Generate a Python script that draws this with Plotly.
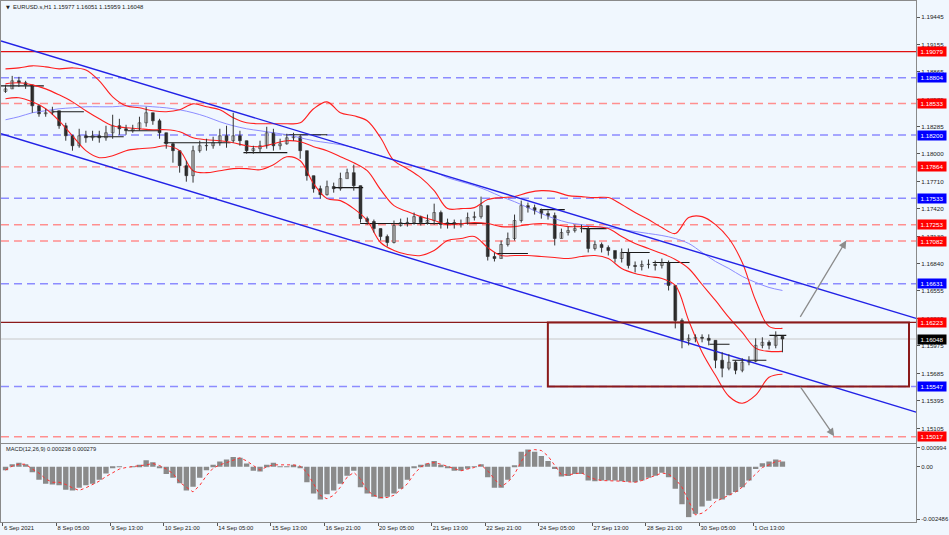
import plotly.graph_objects as go

# ---------------- data (4-hour aggregation of the H1 chart) ----------------
first_open = 1.18660
closes = [1.18687,1.18772,1.18751,1.18729,1.18508,1.18424,1.18435,1.18456,1.18298,1.18192,
          1.18087,1.18192,1.18171,1.18192,1.18171,1.18224,1.18298,1.18266,1.18245,1.18266,
          1.18329,1.18435,1.18350,1.18224,1.18108,1.18035,1.17877,1.17771,1.18035,1.18087,
          1.18087,1.18119,1.18192,1.18140,1.18192,1.18140,1.18035,1.18056,1.18087,1.18224,
          1.18087,1.18108,1.18171,1.18182,1.18035,1.17771,1.17634,1.17571,1.17656,1.17634,
          1.17740,1.17803,1.17666,1.17318,1.17287,1.17213,1.17129,1.17066,1.17245,1.17276,
          1.17276,1.17339,1.17276,1.17298,1.17382,1.17255,1.17276,1.17255,1.17266,1.17329,
          1.17339,1.17455,1.16918,1.16897,1.17045,1.17108,1.17298,1.17455,1.17434,1.17403,
          1.17371,1.17350,1.17108,1.17171,1.17192,1.17213,1.17213,1.17003,1.17045,1.17013,
          1.16982,1.16897,1.16961,1.16824,1.16813,1.16834,1.16834,1.16824,1.16855,1.16613,
          1.16244,1.16034,1.16055,1.16066,1.16055,1.16034,1.15824,1.15740,1.15803,1.15718,
          1.15803,1.15813,1.15981,1.16013,1.15981,1.16076,1.16048]
highs = [1.18729,1.18824,1.18814,1.18772,1.18729,1.18519,1.18477,1.18498,1.18456,1.18329,
         1.18203,1.18266,1.18245,1.18245,1.18245,1.18298,1.18414,1.18371,1.18308,1.18308,
         1.18393,1.18498,1.18435,1.18371,1.18224,1.18119,1.18035,1.17929,1.18087,1.18140,
         1.18161,1.18182,1.18266,1.18298,1.18435,1.18245,1.18140,1.18087,1.18140,1.18287,
         1.18266,1.18161,1.18213,1.18224,1.18203,1.18035,1.17771,1.17666,1.17719,1.17698,
         1.17803,1.17845,1.17887,1.17666,1.17339,1.17308,1.17213,1.17150,1.17298,1.17318,
         1.17329,1.17382,1.17350,1.17361,1.17476,1.17403,1.17318,1.17308,1.17308,1.17382,
         1.17392,1.17550,1.17455,1.16961,1.17087,1.17171,1.17361,1.17508,1.17487,1.17466,
         1.17424,1.17403,1.17382,1.17213,1.17234,1.17255,1.17255,1.17234,1.17087,1.17066,
         1.17035,1.16961,1.17003,1.17003,1.16866,1.16876,1.16887,1.16876,1.16897,1.16876,
         1.16613,1.16265,1.16097,1.16097,1.16097,1.16097,1.16034,1.15908,1.15887,1.15824,
         1.15845,1.15866,1.16055,1.16066,1.16034,1.16129,1.16076]
lows = [1.18645,1.18687,1.18708,1.18687,1.18435,1.18393,1.18393,1.18414,1.18266,1.18140,
        1.18035,1.18066,1.18119,1.18140,1.18119,1.18140,1.18161,1.18203,1.18203,1.18224,
        1.18245,1.18287,1.18308,1.18161,1.18056,1.17908,1.17803,1.17708,1.17698,1.18014,
        1.18035,1.18056,1.18087,1.18066,1.18119,1.18087,1.18003,1.18003,1.18014,1.18056,
        1.18035,1.18045,1.18098,1.18140,1.17950,1.17719,1.17592,1.17529,1.17561,1.17592,
        1.17613,1.17740,1.17613,1.17276,1.17255,1.17171,1.17087,1.17024,1.17056,1.17234,
        1.17234,1.17255,1.17245,1.17255,1.17255,1.17213,1.17213,1.17213,1.17224,1.17255,
        1.17298,1.17318,1.16876,1.16866,1.16897,1.17024,1.17087,1.17276,1.17382,1.17361,
        1.17318,1.17308,1.17035,1.17108,1.17140,1.17171,1.17171,1.16961,1.16982,1.16961,
        1.16929,1.16855,1.16855,1.16792,1.16750,1.16771,1.16792,1.16771,1.16792,1.16560,
        1.16160,1.15950,1.15981,1.16013,1.16013,1.15981,1.15740,1.15644,1.15718,1.15676,
        1.15697,1.15771,1.15803,1.15950,1.15939,1.15950,1.15908]

# Bollinger bands and moving average (every 8 hours)
bb_up = [1.18898,1.18908,1.18930,1.18919,1.18898,1.18908,1.18887,1.18772,1.18603,1.18508,
         1.18487,1.18456,1.18445,1.18466,1.18529,1.18498,1.18466,1.18382,1.18329,1.18319,
         1.18319,1.18319,1.18329,1.18477,1.18550,1.18435,1.18403,1.18350,1.18171,1.17929,
         1.17845,1.17750,1.17613,1.17424,1.17424,1.17434,1.17519,1.17540,1.17550,1.17592,
         1.17613,1.17603,1.17561,1.17550,1.17540,1.17540,1.17466,1.17382,1.17308,1.17224,
         1.17161,1.17329,1.17339,1.17255,1.17108,1.16855,1.16455,1.16181,1.16160]
bb_mid = [1.18740,1.18751,1.18729,1.18687,1.18624,1.18550,1.18456,1.18371,1.18298,1.18277,
          1.18266,1.18256,1.18256,1.18235,1.18171,1.18150,1.18140,1.18119,1.18087,1.18077,
          1.18108,1.18140,1.18129,1.18077,1.18035,1.17971,1.17908,1.17824,1.17624,1.17455,
          1.17392,1.17339,1.17298,1.17255,1.17266,1.17276,1.17266,1.17234,1.17234,1.17255,
          1.17266,1.17255,1.17234,1.17234,1.17234,1.17213,1.17129,1.17056,1.17003,1.16950,
          1.16887,1.16792,1.16623,1.16455,1.16276,1.16118,1.15950,1.15918,1.15918]
bb_low = [1.18582,1.18593,1.18550,1.18477,1.18350,1.18192,1.18035,1.17961,1.17982,1.18035,
          1.18056,1.18066,1.18087,1.18035,1.17824,1.17803,1.17824,1.17845,1.17845,1.17834,
          1.17887,1.17971,1.17929,1.17687,1.17529,1.17508,1.17424,1.17298,1.17066,1.16982,
          1.16939,1.16929,1.16982,1.17087,1.17108,1.17129,1.17013,1.16929,1.16929,1.16929,
          1.16918,1.16908,1.16897,1.16918,1.16929,1.16897,1.16792,1.16739,1.16708,1.16687,
          1.16613,1.16244,1.15908,1.15665,1.15444,1.15370,1.15455,1.15644,1.15676]
ma_line = [1.18361,1.18393,1.18435,1.18456,1.18477,1.18487,1.18498,1.18498,1.18498,1.18508,
           1.18508,1.18498,1.18487,1.18466,1.18435,1.18393,1.18340,1.18298,1.18266,1.18245,
           1.18224,1.18203,1.18171,1.18140,1.18119,1.18098,1.18066,1.18024,1.17982,1.17940,
           1.17898,1.17855,1.17813,1.17750,1.17708,1.17666,1.17613,1.17550,1.17497,1.17434,
           1.17371,1.17318,1.17276,1.17255,1.17234,1.17224,1.17203,1.17182,1.17161,1.17140,
           1.17108,1.17056,1.16961,1.16866,1.16792,1.16708,1.16645,1.16592,1.16560]

# MACD(12,26,9)
macd_hist = [-0.00015,0.00012,0.00018,0.00012,-0.00025,-0.00059,-0.00077,-0.0008,-0.00084,-0.00104,
             -0.00107,-0.00095,-0.00084,-0.00077,-0.00059,-0.0003,-0.00003,0.00003,0.0,0.00003,
             0.00009,0.0003,0.00021,-0.00003,-0.00033,-0.0005,-0.00074,-0.00107,-0.0009,-0.0005,
             -0.00015,0.00009,0.00024,0.00033,0.00044,0.00041,0.00015,-0.00018,-0.00021,0.00009,
             0.00018,0.00003,0.00003,0.00009,-0.00006,-0.0007,-0.00121,-0.00148,-0.00124,-0.00107,
             -0.00077,-0.0004,-0.00018,-0.00092,-0.00121,-0.00136,-0.00144,-0.00136,-0.00121,-0.00099,
             -0.00059,-0.00006,0.00009,0.00015,0.00027,0.00009,-0.00006,-0.00018,-0.00018,-0.00009,
             0.00003,0.00012,-0.00047,-0.00095,-0.00095,-0.00059,0.00004,0.00068,0.00078,0.00068,
             0.00049,0.00027,-0.0001,-0.00044,-0.00041,-0.00033,-0.00033,-0.00062,-0.00065,-0.00062,
             -0.00062,-0.00062,-0.00065,-0.00068,-0.0007,-0.00062,-0.0005,-0.0004,-0.00027,-0.00047,
             -0.00099,-0.00169,-0.00228,-0.00213,-0.0018,-0.00154,-0.00145,-0.00148,-0.00129,-0.00114,
             -0.00092,-0.00062,-0.0001,0.00016,0.00024,0.00033,0.000238]
macd_signal = [-0.00015,0.00003,0.00012,0.00012,-0.0001,-0.00028,-0.00055,-0.0007,-0.0007,-0.0008,
               -0.00095,-0.00107,-0.00095,-0.0008,-0.00065,-0.00044,-0.00025,-0.0001,-0.00003,0.0,
               0.00003,0.00009,0.00015,0.00006,-0.0001,-0.0003,-0.0007,-0.00092,-0.00114,-0.00084,
               -0.0004,-0.00006,0.00009,0.00019,0.0003,0.00041,0.00027,0.00004,-0.00015,0.0,
               0.00009,0.00009,0.00009,0.00009,0.00003,-0.00025,-0.00077,-0.00129,-0.00145,-0.00129,
               -0.00092,-0.00047,-0.00025,-0.00055,-0.00107,-0.00129,-0.00139,-0.00139,-0.00129,-0.00104,
               -0.00077,-0.00033,0.0,0.00015,0.00019,0.00012,0.00003,-0.00009,-0.00018,-0.0001,
               -0.00003,0.00009,-0.00018,-0.00055,-0.00089,-0.0007,-0.00033,0.00024,0.00071,0.00078,
               0.00074,0.00049,0.00009,-0.00036,-0.00036,-0.0003,-0.00027,-0.00044,-0.00056,-0.00062,
               -0.00062,-0.00065,-0.00065,-0.00068,-0.0007,-0.00062,-0.0005,-0.00038,-0.00028,-0.00033,
               -0.00055,-0.00092,-0.00158,-0.00218,-0.0021,-0.00188,-0.00158,-0.00144,-0.00129,-0.00114,
               -0.00092,-0.00062,-0.00033,-0.00003,0.00009,0.00024,0.000279]

# Horizontal levels
level_prices = [1.19079, 1.18804, 1.18533, 1.18200, 1.17864, 1.17533, 1.17253, 1.17082,
                1.16631, 1.16223, 1.15547, 1.15017]
level_kinds = ["red_solid", "blue_dash", "red_dash", "blue_dash", "red_dash", "blue_dash",
               "red_dash", "red_dash", "blue_dash", "dark_solid", "blue_dash", "red_dash"]
current_price = 1.16048

# Channel trendlines (bar index, price)
channel_x = [-1.2, 545.3]
channel_upper = [1.19193, 1.16265]
channel_lower = [1.18214, 1.15276]

# Rectangle zone
zone_x = [325.4, 541.1]
zone_price = [1.15547, 1.16223]

# Arrows (tail -> head)
arrow_tail_x = [475.6, 475.6]
arrow_tail_p = [1.16265, 1.15560]
arrow_head_x = [503.6, 496.4]
arrow_head_p = [1.17087, 1.15023]

# Short black horizontal segments
seg_x0 = [-1.2, 29.8, 49.5, 74.5, 96, 143.6, 167.5, 197.3, 213.3, 295, 320.6, 346.2, 369.5, 388, 421.9, 435.6, 457.7]
seg_x1 = [24.4, 48.3, 72.1, 94.2, 135.9, 169.8, 193.7, 215.1, 289.6, 313.5, 335.5, 360.5, 386.2, 410, 433.9, 455.9, 467.8]
seg_price = [1.18719, 1.18445, 1.18182, 1.18245, 1.18119, 1.18014, 1.18203, 1.17645, 1.17266,
             1.16950, 1.17413, 1.17213, 1.16961, 1.16855, 1.15992, 1.15824, 1.16086]

# Axis labels
price_ticks = [1.19445, 1.19155, 1.18865, 1.18575, 1.18285, 1.18000, 1.17710, 1.17420,
               1.17130, 1.16840, 1.16555, 1.16265, 1.15975, 1.15685, 1.15395, 1.15105]
time_labels = ["6 Sep 2021", "8 Sep 05:00", "9 Sep 13:00", "10 Sep 21:00", "14 Sep 05:00",
               "15 Sep 13:00", "16 Sep 21:00", "20 Sep 05:00", "21 Sep 13:00", "22 Sep 21:00",
               "24 Sep 05:00", "27 Sep 13:00", "28 Sep 21:00", "30 Sep 05:00", "1 Oct 13:00"]
macd_labels = ["0.000994", "0.00", "-0.002486"]
macd_label_pos = [0.00086, 0.0, -0.002365]

# ---------------- figure ----------------
BG = "#F0F7FE"
FONT = "Liberation Sans"
XR = [-1.19, 545.3]

opens = [first_open] + closes[:-1]
cx = [4 * j + 1.5 for j in range(len(closes))]
bx = [8 * k + 1.5 for k in range(len(bb_up))]

fig = go.Figure()

# pivot-type short segments
sx, sy = [], []
for a, b, p in zip(seg_x0, seg_x1, seg_price):
    sx += [a, b, None]
    sy += [p, p, None]
fig.add_trace(go.Scatter(x=sx, y=sy, mode="lines", line=dict(color="#1a1a1a", width=1.1),
                         hoverinfo="skip", showlegend=False))

# moving average and bands
fig.add_trace(go.Scatter(x=bx, y=ma_line, mode="lines", line=dict(color="#8C8CFF", width=1, shape="spline"),
                         hoverinfo="skip", showlegend=False))
for band in (bb_up, bb_mid, bb_low):
    fig.add_trace(go.Scatter(x=bx, y=band, mode="lines", line=dict(color="#FF2020", width=1.1, shape="spline"),
                             hoverinfo="skip", showlegend=False))

# channel lines
for line in (channel_upper, channel_lower):
    fig.add_trace(go.Scatter(x=channel_x, y=line, mode="lines", line=dict(color="#2222E6", width=1.4),
                             hoverinfo="skip", showlegend=False))

# candles: wicks then bodies
wx, wy = [], []
for x, h, l in zip(cx, highs, lows):
    wx += [x, x, None]
    wy += [l, h, None]
fig.add_trace(go.Scatter(x=wx, y=wy, mode="lines", line=dict(color="#333333", width=1),
                         hoverinfo="skip", showlegend=False))
bases = [min(o, c) for o, c in zip(opens, closes)]
heights = [max(abs(c - o), 0.00003) for o, c in zip(opens, closes)]
colors = ["#FFFFFF" if c >= o else "#222222" for o, c in zip(opens, closes)]
fig.add_trace(go.Bar(x=cx, y=heights, base=bases, width=1.7,
                     marker=dict(color=colors, line=dict(color="#333333", width=0.6)),
                     hoverinfo="skip", showlegend=False))

# MACD
fig.add_trace(go.Bar(x=cx, y=macd_hist, width=3.2, marker=dict(color="#8A8A8A", line=dict(width=0)),
                     xaxis="x2", yaxis="y2", hoverinfo="skip", showlegend=False))
fig.add_trace(go.Scatter(x=cx, y=macd_signal, mode="lines", line=dict(color="#FF3030", width=1, dash="dot"),
                         xaxis="x2", yaxis="y2", hoverinfo="skip", showlegend=False))

shapes = []
styles = {
    "red_solid": dict(color="#E01010", width=1.2),
    "dark_solid": dict(color="#8B1A1A", width=1.3),
    "red_dash": dict(color="#FF8F8F", width=1.4, dash="8px,5px"),
    "blue_dash": dict(color="#8C8CFF", width=1.4, dash="8px,5px"),
}
for p, k in zip(level_prices, level_kinds):
    shapes.append(dict(type="line", xref="x domain", yref="y", x0=0, x1=1, y0=p, y1=p,
                       line=styles[k], layer="below"))
shapes.append(dict(type="line", xref="x domain", yref="y", x0=0, x1=1, y0=current_price, y1=current_price,
                   line=dict(color="#C8C8C8", width=1), layer="below"))
shapes.append(dict(type="rect", xref="x", yref="y", x0=zone_x[0], x1=zone_x[1],
                   y0=zone_price[0], y1=zone_price[1], line=dict(color="#8B1A1A", width=2)))

annotations = []
tag_colors = {"red_solid": "#FF0000", "dark_solid": "#FF0000", "red_dash": "#FF0000", "blue_dash": "#0000FF"}
xr = 918 / 949
for p, k in zip(level_prices, level_kinds):
    annotations.append(dict(xref="paper", yref="y", x=xr, y=p, xanchor="left", yanchor="middle",
                            text="%.5f" % p, showarrow=False, bgcolor=tag_colors[k], borderpad=1,
                            font=dict(family=FONT, size=6.2, color="white"), width=26))
annotations.append(dict(xref="paper", yref="y", x=xr, y=current_price, xanchor="left", yanchor="middle",
                        text="%.5f" % current_price, showarrow=False, bgcolor="#000000", borderpad=1,
                        font=dict(family=FONT, size=6.2, color="white"), width=26))
for tx, tp, hx, hp in zip(arrow_tail_x, arrow_tail_p, arrow_head_x, arrow_head_p):
    annotations.append(dict(xref="x", yref="y", axref="x", ayref="y", x=hx, y=hp, ax=tx, ay=tp,
                            showarrow=True, arrowhead=2, arrowsize=1.2, arrowwidth=1.3,
                            arrowcolor="#8C8C8C", text=""))
annotations.append(dict(xref="paper", yref="paper", x=3 / 949, y=1 - 6 / 535, xanchor="left", yanchor="middle",
                        text="▼", showarrow=False, font=dict(family="DejaVu Sans", size=5, color="#222")))
annotations.append(dict(xref="paper", yref="paper", x=10 / 949, y=1 - 6 / 535, xanchor="left", yanchor="middle",
                        text="EURUSD.s,H1 1.15977 1.16051 1.15959 1.16048", showarrow=False,
                        font=dict(family=FONT, size=5.9, color="#222")))
annotations.append(dict(xref="paper", yref="paper", x=3 / 949, y=1 - 449 / 535, xanchor="left", yanchor="middle",
                        text="MACD(12,26,9) 0.000238 0.000279", showarrow=False,
                        font=dict(family=FONT, size=5.7, color="#222")))

axis_common = dict(showgrid=False, zeroline=False, showline=True, mirror=True, linecolor="#8A8A8A",
                   linewidth=1)
fig.update_layout(
    width=949, height=535, margin=dict(l=0, r=0, t=0, b=0),
    paper_bgcolor=BG, plot_bgcolor=BG, barmode="overlay", showlegend=False,
    font=dict(family=FONT, size=6.2, color="#222"),
    xaxis=dict(domain=[0, 917 / 949], range=XR, showticklabels=False, ticks="", **axis_common),
    yaxis=dict(domain=[1 - 443 / 535, 1], range=[1.14949, 1.19614], side="right",
               tickvals=price_ticks, ticktext=["%.5f" % v for v in price_ticks],
               ticks="outside", ticklen=3, tickcolor="#555", tickfont=dict(family=FONT, size=6.2, color="#222"),
               **axis_common),
    xaxis2=dict(domain=[0, 917 / 949], range=XR, anchor="y2",
                tickvals=[32 * i for i in range(len(time_labels))], ticktext=time_labels,
                ticks="outside", ticklen=3, tickcolor="#555", ticklabelposition="outside right",
                tickfont=dict(family=FONT, size=5.9, color="#222"), **axis_common),
    yaxis2=dict(domain=[1 - 522 / 535, 1 - 444 / 535], range=[-0.002501, 0.001027], side="right", anchor="x2",
                tickvals=macd_label_pos, ticktext=macd_labels, ticks="outside", ticklen=3, tickcolor="#555",
                tickfont=dict(family=FONT, size=6.0, color="#222"), **axis_common),
    shapes=shapes, annotations=annotations,
)

fig.write_html("out.html", config={"displayModeBar": False},
               post_script="document.body.style.margin='0';document.body.style.background='%s';" % BG)
